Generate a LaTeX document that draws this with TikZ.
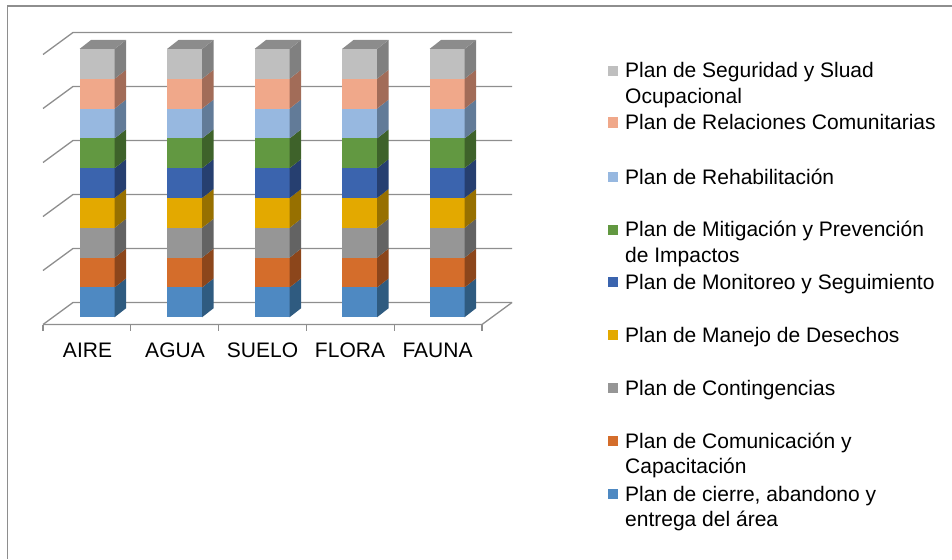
\documentclass[tikz,border=0pt]{standalone}
\usepackage{fontspec}
\setmainfont{Liberation Sans}
\definecolor{cBlue}{HTML}{4E89C2}
\definecolor{cBlueS}{HTML}{2F5B80}
\definecolor{cOrange}{HTML}{D46D2B}
\definecolor{cOrangeS}{HTML}{8C461B}
\definecolor{cGray}{HTML}{969696}
\definecolor{cGrayS}{HTML}{636363}
\definecolor{cYellow}{HTML}{E3A900}
\definecolor{cYellowS}{HTML}{977000}
\definecolor{cDBlue}{HTML}{3B64AE}
\definecolor{cDBlueS}{HTML}{263F70}
\definecolor{cGreen}{HTML}{629841}
\definecolor{cGreenS}{HTML}{3E622A}
\definecolor{cLBlue}{HTML}{97B8E0}
\definecolor{cLBlueS}{HTML}{627B98}
\definecolor{cSalmon}{HTML}{F0A88A}
\definecolor{cSalmonS}{HTML}{A26C58}
\definecolor{cLGray}{HTML}{BFBFBF}
\definecolor{cLGrayS}{HTML}{808080}
\definecolor{cTop}{HTML}{8C8C8C}
\definecolor{gridc}{HTML}{8E8E8E}
\tikzset{
  gridline/.style={draw=gridc, line width=1.3pt},
  frameline/.style={draw=gridc, line width=1.5pt},
  lab/.style={font=\fontsize{21}{25}\selectfont, inner sep=0pt, text=black},
  legsq/.style={minimum size=10pt, inner sep=0pt, draw=none},
}
\begin{document}
\begin{tikzpicture}[x=1pt,y=-1pt]
\useasboundingbox (0,0) rectangle (952,559);
% frame
\draw[frameline] (7.5,559) -- (7.5,6) -- (952,6);
% gridlines
\foreach \k in {0,...,5}{
  \pgfmathsetmacro{\yy}{32.5+54*\k}
  \draw[gridline] (43,\yy+22) -- (73,\yy) -- (512,\yy);
}
\draw[gridline] (43,324.5) -- (482,324.5) -- (512,302.5);
\foreach \i in {0,...,5}{
  \draw[gridline] (43+87.8*\i,324.5) -- (43+87.8*\i,331);
}
% bars
\foreach \i in {0,...,4}{
  \pgfmathsetmacro{\xa}{79.5+87.5*\i}
  \pgfmathsetmacro{\xb}{\xa+35}
  \foreach \s/\fc/\sc in {0/cBlue/cBlueS,1/cOrange/cOrangeS,2/cGray/cGrayS,3/cYellow/cYellowS,4/cDBlue/cDBlueS,5/cGreen/cGreenS,6/cLBlue/cLBlueS,7/cSalmon/cSalmonS,8/cLGray/cLGrayS}{
    \pgfmathsetmacro{\yb}{317.3-29.81*\s}
    \pgfmathsetmacro{\yt}{\yb-29.81}
    \fill[\fc] (\xa,\yb) rectangle (\xb,\yt);
    \fill[\sc] (\xb,\yb) -- (\xb+11.5,\yb-9) -- (\xb+11.5,\yt-9) -- (\xb,\yt) -- cycle;
  }
  \fill[cTop] (\xa,49) -- (\xb,49) -- (\xb+11.5,40) -- (\xa+11.5,40) -- cycle;
}
% category labels
\node[lab, anchor=base] (c1) at (87.5,357) {AIRE};
\node[lab, anchor=base] (c2) at (175,357) {AGUA};
\node[lab, anchor=base] (c3) at (262.5,357) {SUELO};
\node[lab, anchor=base] (c4) at (350,357) {FLORA};
\node[lab, anchor=base] (c5) at (437.5,357) {FAUNA};
% legend
\node[legsq, fill=cLGray] (s1) at (613,71) {};
\node[lab, anchor=base west] (l1) at (625,78) {Plan de Seguridad y Sluad};
\node[lab, anchor=base west] (l1b) at (625,103) {Ocupacional};
\node[legsq, fill=cSalmon] (s2) at (613,122.5) {};
\node[lab, anchor=base west] (l2) at (625,129.5) {Plan de Relaciones Comunitarias};
\node[legsq, fill=cLBlue] (s3) at (613,177) {};
\node[lab, anchor=base west] (l3) at (625,184) {Plan de Rehabilitación};
\node[legsq, fill=cGreen] (s4) at (613,229.5) {};
\node[lab, anchor=base west] (l4) at (625,236.5) {Plan de Mitigación y Prevención};
\node[lab, anchor=base west] (l4b) at (625,262) {de Impactos};
\node[legsq, fill=cDBlue] (s5) at (613,282) {};
\node[lab, anchor=base west] (l5) at (625,289) {Plan de Monitoreo y Seguimiento};
\node[legsq, fill=cYellow] (s6) at (613,335) {};
\node[lab, anchor=base west] (l6) at (625,342) {Plan de Manejo de Desechos};
\node[legsq, fill=cGray] (s7) at (613,388) {};
\node[lab, anchor=base west] (l7) at (625,395) {Plan de Contingencias};
\node[legsq, fill=cOrange] (s8) at (613,441) {};
\node[lab, anchor=base west] (l8) at (625,448) {Plan de Comunicación y};
\node[lab, anchor=base west] (l8b) at (625,473.5) {Capacitación};
\node[legsq, fill=cBlue] (s9) at (613,494) {};
\node[lab, anchor=base west] (l9) at (625,501) {Plan de cierre, abandono y};
\node[lab, anchor=base west] (l9b) at (625,526.5) {entrega del área};
\end{tikzpicture}
\end{document}
